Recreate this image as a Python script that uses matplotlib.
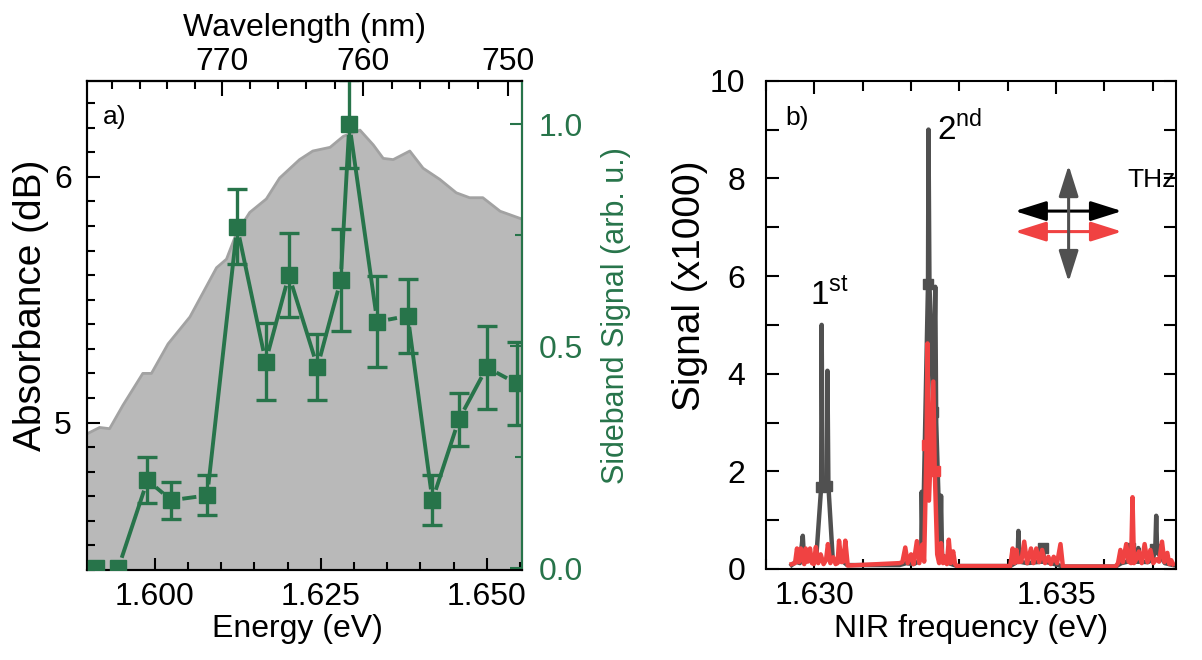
import numpy as np
import matplotlib
matplotlib.use('Agg')
import matplotlib.pyplot as plt
from matplotlib.ticker import MultipleLocator, FixedLocator, FormatStrFormatter

plt.rcParams['font.family'] = ['Liberation Sans', 'DejaVu Sans']
plt.rcParams['mathtext.fontset'] = 'custom'
plt.rcParams['mathtext.rm'] = 'Liberation Sans'

GREEN = '#27744a'
GRAY = '#505050'
RED = '#f04242'

# ---- a) absorbance (dB) vs energy ----
abs_energy = [1.5895, 1.5917, 1.5932, 1.5952, 1.5982, 1.5995, 1.6020, 1.6053, 1.6078, 1.6093,
              1.6108, 1.6123, 1.6143, 1.6168, 1.6188, 1.6218, 1.6238, 1.6264, 1.6284, 1.6309,
              1.6329, 1.6344, 1.6359, 1.6384, 1.6404, 1.6429, 1.6454, 1.6474, 1.6494, 1.6520,
              1.6556]
abs_db = [4.95, 4.98, 4.975, 5.07, 5.20, 5.20, 5.32, 5.43, 5.555, 5.63,
          5.665, 5.77, 5.855, 5.91, 5.995, 6.07, 6.105, 6.12, 6.165, 6.19,
          6.13, 6.075, 6.07, 6.105, 6.035, 5.99, 5.935, 5.915, 5.915, 5.86,
          5.825]

# ---- a) sideband signal (arb. u.) ----
sb_energy = [1.5911, 1.5945, 1.5989, 1.6025, 1.6079, 1.6124, 1.6167, 1.6202, 1.6245,
             1.6280, 1.6293, 1.6335, 1.6381, 1.6418, 1.6458, 1.6500, 1.6545]
sb_signal = [0.0, 0.0, 0.198, 0.153, 0.164, 0.769, 0.465, 0.660, 0.453,
             0.649, 1.0, 0.555, 0.568, 0.153, 0.335, 0.452, 0.416]
sb_err = [0, 0, 0.052, 0.042, 0.045, 0.085, 0.086, 0.094, 0.075,
          0.115, 0.10, 0.103, 0.083, 0.056, 0.06, 0.093, 0.094]

# ---- b) sideband spectra (x1000), gray and red ----
gray_energy = [1.62953, 1.62962, 1.62970, 1.62976, 1.62979, 1.62988, 1.62996, 1.63004, 1.63014,
               1.63015, 1.63017, 1.63026, 1.63027, 1.63029, 1.63038, 1.63046, 1.63056, 1.63068,
               1.63176, 1.63190, 1.63205, 1.63215, 1.63221, 1.63222, 1.63224, 1.63235, 1.63236,
               1.63238, 1.63246, 1.63250, 1.63252, 1.63260, 1.63262, 1.63264, 1.63278, 1.63295,
               1.63405, 1.63415, 1.63420, 1.63422, 1.63424, 1.63440, 1.63460, 1.63471, 1.63473,
               1.63475, 1.63490, 1.63514,
               1.63623, 1.63635, 1.63648, 1.63652, 1.63656, 1.63668, 1.63670, 1.63672, 1.63690,
               1.63700, 1.63705, 1.63707, 1.63709, 1.63725, 1.63742]
gray_signal = [0.08, 0.15, 0.12, 0.68, 0.14, 0.20, 0.15, 0.25, 1.67,
               5.00, 1.67, 1.70, 4.06, 1.70, 0.20, 0.15, 0.18, 0.08,
               0.08, 0.12, 0.10, 0.15, 0.30, 1.58, 0.40, 5.84, 9.00,
               5.84, 3.22, 5.78, 3.00, 0.40, 1.50, 0.30, 0.12, 0.06,
               0.06, 0.12, 0.15, 0.78, 0.15, 0.12, 0.14, 0.15, 0.42,
               0.15, 0.12, 0.05,
               0.05, 0.12, 0.15, 0.42, 0.14, 0.15, 0.43, 0.15, 0.14,
               0.20, 0.40, 1.09, 0.35, 0.12, 0.08]
gray_marked = [8, 11, 25, 28, 44, 51, 58]

red_energy = [1.62953, 1.62960, 1.62964, 1.62968, 1.62972, 1.62976, 1.62979, 1.62982, 1.62986,
              1.62991, 1.62995, 1.62999, 1.63003, 1.63008, 1.63013, 1.63019, 1.63024, 1.63028,
              1.63033, 1.63039, 1.63044, 1.63048, 1.63051, 1.63056, 1.63060, 1.63064, 1.63069,
              1.63176, 1.63182, 1.63188, 1.63193, 1.63200, 1.63205, 1.63212, 1.63217, 1.63223,
              1.63227, 1.63232, 1.63234, 1.63237, 1.63246, 1.63249, 1.63254, 1.63258, 1.63262,
              1.63266, 1.63270, 1.63274, 1.63278, 1.63282, 1.63287, 1.63291, 1.63295,
              1.63405, 1.63410, 1.63414, 1.63418, 1.63422, 1.63428, 1.63434, 1.63440, 1.63448,
              1.63453, 1.63459, 1.63465, 1.63471, 1.63477, 1.63484, 1.63489, 1.63495, 1.63502,
              1.63509, 1.63514,
              1.63623, 1.63628, 1.63633, 1.63638, 1.63645, 1.63650, 1.63655, 1.63658, 1.63661,
              1.63666, 1.63671, 1.63677, 1.63683, 1.63689, 1.63695, 1.63701, 1.63707, 1.63713,
              1.63719, 1.63724, 1.63730, 1.63734, 1.63738, 1.63742]
red_signal = [0.10, 0.12, 0.42, 0.14, 0.42, 0.20, 0.10, 0.42, 0.15,
              0.42, 0.12, 0.10, 0.45, 0.12, 0.30, 0.10, 0.18, 0.51,
              0.12, 0.24, 0.10, 0.12, 0.58, 0.14, 0.15, 0.58, 0.07,
              0.12, 0.14, 0.44, 0.12, 0.30, 0.10, 0.57, 0.12, 0.50,
              0.15, 2.54, 4.62, 1.40, 3.84, 2.00, 0.30, 0.12, 0.53,
              0.12, 0.25, 0.10, 0.60, 0.12, 0.36, 0.10, 0.06,
              0.06, 0.42, 0.12, 0.39, 0.14, 0.15, 0.56, 0.12, 0.42,
              0.12, 0.42, 0.14, 0.39, 0.12, 0.25, 0.10, 0.25, 0.12,
              0.51, 0.05,
              0.05, 0.12, 0.39, 0.14, 0.51, 0.15, 0.12, 1.47, 0.12,
              0.20, 0.36, 0.12, 0.51, 0.14, 0.39, 0.12, 0.20, 0.15,
              0.56, 0.14, 0.33, 0.10, 0.18, 0.10]
red_marked = [37, 41]


def e2nm(e):
    e = np.asarray(e, dtype=float)
    with np.errstate(divide='ignore'):
        return 1239.84 / e


def gapped_line(ax, x, y, gap, **kw):
    '''
    line between points, leaving a gap (pixels) around each symbol
    '''
    pts = ax.transData.transform(np.column_stack([x, y]))
    inv = ax.transData.inverted()
    for p0, p1 in zip(pts[:-1], pts[1:]):
        d = p1 - p0
        L = np.hypot(d[0], d[1])
        if L <= 2 * gap + 3:
            continue
        u = d / L
        a = inv.transform(p0 + u * gap)
        b = inv.transform(p1 - u * gap)
        ax.plot([a[0], b[0]], [a[1], b[1]], **kw)


def panel_a(fig):
    ax = fig.add_axes([0.0724, 0.1364, 0.3619, 0.7409])
    # 1) absorbance as gray filled area
    ax.fill_between(abs_energy, abs_db, 4.0, color='#b9b9b9', lw=0, zorder=1)
    ax.plot(abs_energy, abs_db, color='#a2a2a2', lw=2, zorder=1.5)
    ax.set_xlim(1.5898, 1.6553)
    ax.set_ylim(4.40, 6.39)
    ax.xaxis.set_major_locator(MultipleLocator(0.025))
    ax.xaxis.set_minor_locator(MultipleLocator(0.005))
    ax.xaxis.set_major_formatter(FormatStrFormatter('%.3f'))
    ax.yaxis.set_major_locator(MultipleLocator(1))
    ax.yaxis.set_minor_locator(MultipleLocator(0.1))
    ax.tick_params(which='both', direction='in', width=1.5, top=False, right=False)
    ax.tick_params(which='major', length=9)
    ax.tick_params(which='minor', length=6)
    ax.tick_params(axis='x', labelsize=23, pad=9)
    ax.tick_params(axis='y', labelsize=23, pad=11)
    for s in ax.spines.values():
        s.set_linewidth(1.5)
    ax.set_xlabel('Energy (eV)', fontsize=23)
    ax.xaxis.set_label_coords(0.484, -0.09)
    ax.set_ylabel('Absorbance (dB)', fontsize=28, va='center')
    ax.yaxis.set_label_coords(-0.129, 0.542)
    ax.text(0.037, 0.912, 'a)', transform=ax.transAxes, fontsize=19)

    # 2) wavelength on top
    sec = ax.secondary_xaxis('top', functions=(e2nm, e2nm))
    sec.xaxis.set_major_locator(FixedLocator([750, 760, 770]))
    sec.xaxis.set_minor_locator(FixedLocator(np.arange(744, 782, 2)))
    sec.tick_params(which='both', direction='in', width=1.5, labelsize=23, pad=3)
    sec.tick_params(which='major', length=11)
    sec.tick_params(which='minor', length=6)
    sec.spines['top'].set_linewidth(1.5)
    sec.set_xlabel('Wavelength (nm)', fontsize=23, labelpad=8)

    # 3) sideband signal on the right axis
    ax2 = ax.twinx()
    ax2.set_ylim(-0.004, 1.097)
    ax2.set_xlim(ax.get_xlim())
    gapped_line(ax2, sb_energy, sb_signal, 11, color=GREEN, lw=2.8, solid_capstyle='butt')
    x = np.array(sb_energy)
    y = np.array(sb_signal)
    e = np.array(sb_err)
    m = e > 0
    ax2.errorbar(x[m], y[m], yerr=e[m], fmt='none', ecolor=GREEN, elinewidth=2.4,
                 capsize=7.5, capthick=2.4)
    ax2.plot(x, y, 's', color=GREEN, ms=12, zorder=3)
    ax2.yaxis.set_major_locator(MultipleLocator(0.5))
    ax2.yaxis.set_minor_locator(MultipleLocator(0.25))
    ax2.yaxis.set_major_formatter(FormatStrFormatter('%.1f'))
    ax2.tick_params(axis='y', which='both', direction='in', colors=GREEN, width=1.5,
                    labelsize=23, pad=12)
    ax2.tick_params(axis='y', which='major', length=9)
    ax2.tick_params(axis='y', which='minor', length=5)
    for s in ax2.spines.values():
        s.set_linewidth(1.5)
    ax2.spines['right'].set_color(GREEN)
    ax2.set_ylabel('Sideband Signal (arb. u.)', fontsize=22, color=GREEN, va='center')
    ax2.yaxis.set_label_coords(1.216, 0.521)


def panel_b(fig):
    bx = fig.add_axes([0.6373, 0.1379, 0.3411, 0.7398])
    bx.plot(gray_energy, gray_signal, color=GRAY, lw=3.2, marker='s', ms=7,
            markevery=gray_marked)
    bx.plot(red_energy, red_signal, color=RED, lw=3.2, marker='s', ms=7,
            markevery=red_marked)
    bx.set_xlim(1.6290, 1.63748)
    bx.set_ylim(0, 10)
    bx.xaxis.set_major_locator(MultipleLocator(0.005))
    bx.xaxis.set_minor_locator(MultipleLocator(0.001))
    bx.xaxis.set_major_formatter(FormatStrFormatter('%.3f'))
    bx.yaxis.set_major_locator(MultipleLocator(2))
    bx.yaxis.set_minor_locator(MultipleLocator(1))
    bx.tick_params(which='both', direction='in', width=1.5, top=True, right=True)
    bx.tick_params(which='major', length=9)
    bx.tick_params(which='minor', length=7)
    bx.tick_params(axis='y', which='minor', length=9)
    bx.tick_params(axis='x', labelsize=23, pad=9)
    bx.tick_params(axis='y', labelsize=23, pad=15)
    for s in bx.spines.values():
        s.set_linewidth(1.5)
    bx.set_xlabel('NIR frequency (eV)', fontsize=23)
    bx.xaxis.set_label_coords(0.5, -0.092)
    bx.set_ylabel('Signal (x1000)', fontsize=28, va='center')
    bx.yaxis.set_label_coords(-0.185, 0.58)

    bx.text(0.046, 0.91, 'b)', transform=bx.transAxes, fontsize=19)
    bx.text(0.107, 0.541, '1$^{\\mathrm{st}}$', transform=bx.transAxes, fontsize=24)
    bx.text(0.417, 0.879, '2$^{\\mathrm{nd}}$', transform=bx.transAxes, fontsize=24)
    bx.text(0.881, 0.782, 'THz', transform=bx.transAxes, fontsize=19)

    # polarisation arrows
    style = '<|-|>,head_length=1.9,head_width=0.6'
    for yy, c in [(0.733, 'black'), (0.691, RED)]:
        bx.annotate('', xy=(0.868, yy), xytext=(0.607, yy), xycoords='axes fraction',
                    arrowprops=dict(arrowstyle=style, color=c, lw=2.2, shrinkA=0,
                                    shrinkB=0, mutation_scale=10))
    bx.annotate('', xy=(0.738, 0.827), xytext=(0.738, 0.588), xycoords='axes fraction',
                arrowprops=dict(arrowstyle=style, color=GRAY, lw=2.2, shrinkA=0,
                                shrinkB=0, mutation_scale=10))


if __name__ == '__main__':
    fig = plt.figure(figsize=(12.02, 6.6), dpi=100)
    panel_a(fig)
    panel_b(fig)
    fig.savefig('out.png', dpi=100)
